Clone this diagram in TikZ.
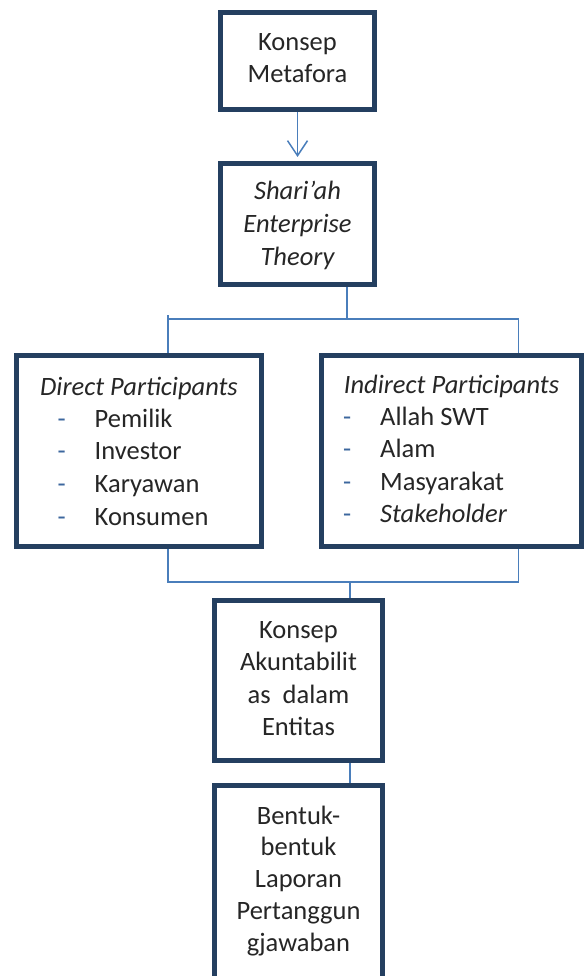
\documentclass[tikz,border=0pt]{standalone}
\usepackage{fontspec}
\setmainfont{Carlito}
\usetikzlibrary{arrows.meta}
\definecolor{boxc}{HTML}{243F60}
\definecolor{linec}{HTML}{4A7EBB}
\definecolor{dashc}{HTML}{3C679E}
\definecolor{txtc}{HTML}{262626}
\begin{document}
\begin{tikzpicture}[x=1pt,y=-1pt,
  box/.style={draw=boxc, line width=5pt, rectangle, inner sep=0pt, fill=white},
  conn/.style={draw=linec, line width=1.5pt},
  txt/.style={font=\fontsize{26.5}{32.5}\selectfont, text=txtc, inner sep=0pt, anchor=base},
  item/.style={txt, anchor=base west}
]
\useasboundingbox (0,0) rectangle (585,976);
\clip (0,0) rectangle (585,976);

% boxes
\node[box, minimum width=154pt, minimum height=97pt]  (b1) at (297.5,61) {};
\node[box, minimum width=154pt, minimum height=121pt] (b2) at (297.5,224) {};
\node[box, minimum width=245pt, minimum height=191pt] (b3) at (139,451) {};
\node[box, minimum width=260pt, minimum height=191pt] (b4) at (451.5,451) {};
\node[box, minimum width=168pt, minimum height=160pt] (b5) at (298.5,680.5) {};
\node[box, minimum width=168pt, minimum height=240pt] (b6) at (298.5,905.5) {};

% connectors
\draw[conn, -{Straight Barb[length=15pt,width=20pt]}, shorten >=4pt] (b1.south) -- (b2.north);

\coordinate (tm) at (347,319);
\coordinate (tl) at (168,319);
\coordinate (tl0) at (168,315);
\coordinate (tr) at (518.5,319);
\draw[conn] (b2.south -| tm) -- (tm);
\draw[conn] (tl0) -- (b3.north -| tl);
\draw[conn] (tl) -- (tr) -- (b4.north -| tr);

\coordinate (bl) at (168,582);
\coordinate (br) at (518.5,582);
\coordinate (bm) at (350,582);
\draw[conn] (b3.south -| bl) -- (bl) -- (br) -- (b4.south -| br);
\draw[conn] (bm) -- (b5.north -| bm);
\draw[conn] (b5.south -| bm) -- (b6.north -| bm);

% texts
\node[txt] (k1) at (297.5,51) {Konsep};
\node[txt] (k2) at (297.5,83) {Metafora};

\node[txt] (s1) at (297.5,200) {\itshape Shari’ah};
\node[txt] (s2) at (297.5,232.5) {\itshape Enterprise};
\node[txt] (s3) at (297.5,265) {\itshape Theory};

\node[txt] (dp) at (139,395) {\itshape Direct Participants};
\foreach [count=\i] \t in {Pemilik, Investor, Karyawan, Konsumen}
  \node[item] (p\i) at (57.5,{427+32.7*(\i-1)}) {\makebox[37pt][l]{\textcolor{dashc}{-}}\t};

\node[txt] (ip) at (451.5,393) {\itshape Indirect Participants};
\foreach [count=\i] \t in {Allah SWT, Alam, Masyarakat, \textit{Stakeholder}}
  \node[item] (q\i) at (343,{425+32.5*(\i-1)}) {\makebox[37pt][l]{\textcolor{dashc}{-}}\t};

\foreach [count=\i] \t in {Konsep, Akuntabilit, as\ \ dalam, Entitas}
  \node[txt] (a\i) at (298.5,{638+32.5*(\i-1)}) {\t};

\foreach [count=\i] \t in {Bentuk-, bentuk, Laporan, Pertanggun, gjawaban}
  \node[txt] (r\i) at (298.5,{824+31.8*(\i-1)}) {\t};
\end{tikzpicture}
\end{document}
